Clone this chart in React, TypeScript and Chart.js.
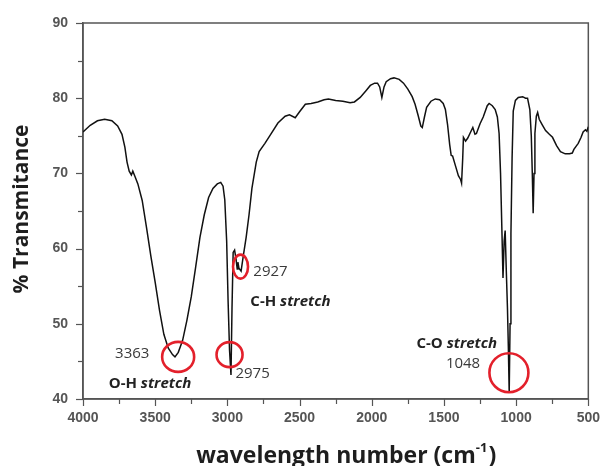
import React, { useEffect, useRef } from "react";
import { Chart, registerables } from "chart.js";

Chart.register(...registerables);

const wavenumbers = [
  4000, 3950, 3900, 3850, 3800, 3760, 3730, 3710, 3695, 3680, 3665, 3655, 3640, 3620, 3590, 3560,
  3530, 3500, 3470, 3440, 3410, 3380, 3363, 3340, 3310, 3280, 3250, 3220, 3190, 3160, 3130, 3100,
  3070, 3046, 3030, 3018, 3005, 2995, 2985, 2975, 2968, 2960, 2950, 2940, 2932, 2927, 2920, 2905,
  2890, 2870, 2850, 2830, 2800, 2780, 2740, 2700, 2650, 2600, 2570, 2530, 2500, 2460, 2420, 2374,
  2330, 2300, 2250, 2200, 2150, 2120, 2080, 2040, 2010, 1980, 1960, 1945, 1930, 1915, 1900, 1870,
  1846, 1810, 1780, 1750, 1720, 1700, 1680, 1660, 1650, 1635, 1620, 1590, 1560, 1530, 1505, 1490,
  1475, 1460, 1450, 1440, 1420, 1400, 1385, 1378, 1370, 1365, 1350, 1335, 1320, 1300, 1285, 1275,
  1250, 1228, 1200, 1187, 1165, 1145, 1130, 1118, 1108, 1098, 1091, 1083, 1076, 1068, 1060, 1054,
  1048, 1042, 1036, 1028, 1020, 1005, 985, 955, 935, 921, 905, 895, 888, 882, 876, 870,
  860, 851, 840, 820, 796, 770, 748, 720, 693, 660, 630, 611, 600, 585, 570, 550,
  536, 520, 510, 500,
];

const transmittance = [
  75.5, 76.4, 77.0, 77.2, 77.0, 76.3, 75.2, 73.5, 71.5, 70.3, 69.8, 70.3, 69.6, 68.6, 66.4, 62.8,
  59.0, 55.5, 51.8, 48.6, 46.8, 45.9, 45.6, 46.2, 47.8, 50.5, 53.6, 57.5, 61.5, 64.5, 66.8, 68.0,
  68.6, 68.8, 68.3, 66.5, 61.0, 53.0, 46.5, 43.2, 52.0, 59.5, 59.8, 58.6, 57.3, 58.2, 57.4, 57.0,
  59.0, 61.5, 64.5, 68.0, 71.5, 72.9, 74.0, 75.2, 76.7, 77.6, 77.8, 77.4, 78.2, 79.2, 79.3, 79.5,
  79.8, 79.9, 79.7, 79.6, 79.4, 79.5, 80.1, 81.0, 81.7, 82.0, 82.0, 81.5, 80.1, 81.5, 82.2, 82.6,
  82.7, 82.5, 82.0, 81.2, 80.2, 79.2, 77.8, 76.3, 76.1, 77.5, 78.8, 79.6, 79.9, 79.8, 79.3, 78.5,
  76.5, 73.8, 72.4, 72.3, 71.0, 69.7, 69.2, 68.7, 72.0, 74.8, 74.3, 74.7, 75.3, 76.1, 75.2, 75.3,
  76.6, 77.5, 79.0, 79.3, 79.0, 78.5, 77.5, 75.3, 70.0, 62.0, 56.1, 61.0, 62.4, 57.0, 52.0, 47.0,
  40.8, 50.0, 62.0, 72.0, 78.3, 79.7, 80.1, 80.2, 80.0, 80.0, 78.5, 75.0, 70.0, 64.7, 70.0, 75.3,
  77.6, 78.1, 77.2, 76.5, 75.7, 75.2, 74.8, 73.7, 72.9, 72.6, 72.6, 72.7, 73.2, 73.6, 74.0, 74.8,
  75.5, 75.8, 75.6, 76.2,
];

// x-axis range and tick step (wavenumber, cm^-1)
const xRange = [500, 4000];
const xStep = 250;
const xLabelStep = 500;
// y-axis range and tick step (% transmittance)
const yRange = [40, 90];
const yStep = 5;
const yLabelStep = 10;

// highlighted peaks: [wavenumber, transmittance]
const circleCenters = [
  [3341, 45.6],
  [2985, 45.9],
  [2909, 57.6],
  [1050, 43.5],
];
const circleRadii = [
  [16, 15],
  [13, 12.5],
  [7.5, 12],
  [19.5, 19.5],
];

// peak-number labels
const peakLabels = ["3363", "2975", "2927", "1048"];
const peakLabelPos = [
  [3540, 46.0],
  [2944, 43.3],
  [2820, 56.9],
  [1249, 44.7],
];
const peakLabelAlign = ["right", "left", "left", "right"];

// band labels: bold prefix + bold-italic word
const bandPrefix = ["O-H ", "C-H ", "C-O "];
const bandWord = ["stretch", "stretch", "stretch"];
const bandPos = [
  [3822, 42.0],
  [2841, 52.9],
  [1132, 47.3],
];
const bandAlign = ["left", "left", "right"];

const yTitle = "% Transmitance";
const xTitleMain = "wavelength number (cm";
const xTitleSup = "-1";
const xTitleEnd = ")";

const AXIS_COLOR = "#555555";
const TITLE_FONT = '"Open Sans", "Noto Sans", sans-serif';

const decorPlugin = {
  id: "decor",
  beforeDatasetsDraw(chart: any) {
    const { ctx, chartArea: a, scales } = chart;
    const xs = scales.x;
    const ys = scales.y;
    ctx.save();
    ctx.strokeStyle = AXIS_COLOR;
    ctx.lineWidth = 1.5;
    ctx.strokeRect(a.left, a.top, a.right - a.left, a.bottom - a.top);
    ctx.lineWidth = 1.2;
    for (let v = xRange[0]; v <= xRange[1]; v += xStep) {
      const px = Math.round(xs.getPixelForValue(v)) + 0.5;
      const len = v % xLabelStep === 0 ? 7 : 5;
      ctx.beginPath();
      ctx.moveTo(px, a.bottom);
      ctx.lineTo(px, a.bottom + len);
      ctx.stroke();
    }
    for (let v = yRange[0]; v <= yRange[1]; v += yStep) {
      const py = Math.round(ys.getPixelForValue(v)) + 0.5;
      const len = v % yLabelStep === 0 ? 7 : 5;
      ctx.beginPath();
      ctx.moveTo(a.left, py);
      ctx.lineTo(a.left - len, py);
      ctx.stroke();
    }
    ctx.restore();
  },
  afterDraw(chart: any) {
    const { ctx, chartArea: a, scales } = chart;
    const xs = scales.x;
    const ys = scales.y;
    ctx.save();
    ctx.strokeStyle = "#e3202b";
    ctx.lineWidth = 2.6;
    circleCenters.forEach((c, i) => {
      const cx = xs.getPixelForValue(c[0]);
      const cy = ys.getPixelForValue(c[1]);
      ctx.beginPath();
      ctx.ellipse(cx, cy, circleRadii[i][0], circleRadii[i][1], 0, 0, Math.PI * 2);
      ctx.stroke();
    });
    ctx.fillStyle = "#3a3a3a";
    ctx.font = `15px ${TITLE_FONT}`;
    ctx.textBaseline = "middle";
    peakLabels.forEach((t, i) => {
      ctx.textAlign = peakLabelAlign[i] as CanvasTextAlign;
      ctx.fillText(t, xs.getPixelForValue(peakLabelPos[i][0]), ys.getPixelForValue(peakLabelPos[i][1]));
    });
    ctx.fillStyle = "#222222";
    ctx.textAlign = "left";
    bandPrefix.forEach((p, i) => {
      ctx.font = `bold 15px ${TITLE_FONT}`;
      const w1 = ctx.measureText(p).width;
      ctx.font = `italic bold 15px ${TITLE_FONT}`;
      const w2 = ctx.measureText(bandWord[i]).width;
      let x = xs.getPixelForValue(bandPos[i][0]);
      const y = ys.getPixelForValue(bandPos[i][1]);
      if (bandAlign[i] === "right") x -= w1 + w2;
      ctx.font = `bold 15px ${TITLE_FONT}`;
      ctx.fillText(p, x, y);
      ctx.font = `italic bold 15px ${TITLE_FONT}`;
      ctx.fillText(bandWord[i], x + w1, y);
    });
    ctx.fillStyle = "#1e1e1e";
    ctx.font = `bold 21px ${TITLE_FONT}`;
    ctx.save();
    ctx.translate(22, (a.top + a.bottom) / 2 - 2);
    ctx.rotate(-Math.PI / 2);
    ctx.textAlign = "center";
    ctx.textBaseline = "middle";
    ctx.fillText(yTitle, 0, 0);
    ctx.restore();
    ctx.font = `bold 23px ${TITLE_FONT}`;
    const wm = ctx.measureText(xTitleMain).width;
    const we = ctx.measureText(xTitleEnd).width;
    ctx.font = `bold 13px ${TITLE_FONT}`;
    const ws = ctx.measureText(xTitleSup).width;
    const total = wm + ws + we + 1;
    let tx = (a.left + a.right) / 2 + 10.5 - total / 2;
    const ty = 463;
    ctx.textAlign = "left";
    ctx.textBaseline = "alphabetic";
    ctx.font = `bold 23px ${TITLE_FONT}`;
    ctx.fillText(xTitleMain, tx, ty);
    tx += wm;
    ctx.font = `bold 13px ${TITLE_FONT}`;
    ctx.fillText(xTitleSup, tx, ty - 11);
    tx += ws + 1;
    ctx.font = `bold 23px ${TITLE_FONT}`;
    ctx.fillText(xTitleEnd, tx, ty);
    ctx.restore();
  },
};

export default function App() {
  const ref = useRef<HTMLCanvasElement>(null);
  useEffect(() => {
    document.body.style.margin = "0";
    const points = wavenumbers.map((w, i) => ({ x: w, y: transmittance[i] }));
    const tickFont = { family: '"Liberation Sans", Arial, sans-serif', size: 14, weight: "bold" as const };
    const chart = new Chart(ref.current!, {
      type: "line",
      data: {
        datasets: [
          {
            data: points,
            borderColor: "#111111",
            borderWidth: 1.5,
            pointRadius: 0,
            tension: 0,
            fill: false,
          },
        ],
      },
      options: {
        animation: false,
        responsive: false,
        maintainAspectRatio: false,
        layout: { padding: { top: 23, right: 11, left: 0, bottom: 0 } },
        plugins: { legend: { display: false }, tooltip: { enabled: false } },
        scales: {
          x: {
            type: "linear",
            reverse: true,
            min: xRange[0],
            max: xRange[1],
            grid: { display: false, drawTicks: true, tickLength: 7 },
            border: { display: true, color: AXIS_COLOR, width: 1.5 },
            ticks: {
              stepSize: xStep,
              autoSkip: false,
              maxRotation: 0,
              padding: 4,
              color: AXIS_COLOR,
              font: tickFont,
              callback: (v: any) => (Number(v) % xLabelStep === 0 ? String(v) : ""),
            },
            afterFit: (s: any) => {
              s.height = 67;
            },
          },
          y: {
            type: "linear",
            min: yRange[0],
            max: yRange[1],
            grid: { display: false, drawTicks: true, tickLength: 7 },
            border: { display: true, color: AXIS_COLOR, width: 1.5 },
            ticks: {
              stepSize: yStep,
              autoSkip: false,
              padding: 8,
              color: AXIS_COLOR,
              font: tickFont,
              callback: (v: any) => (Number(v) % yLabelStep === 0 ? String(v) : ""),
            },
            afterFit: (s: any) => {
              s.width = 83;
            },
          },
        },
      },
      plugins: [decorPlugin],
    });
    return () => chart.destroy();
  }, []);
  return (
    <div style={{ width: 604, height: 466 }}>
      <canvas ref={ref} width={604} height={466} style={{ display: "block" }} />
    </div>
  );
}
